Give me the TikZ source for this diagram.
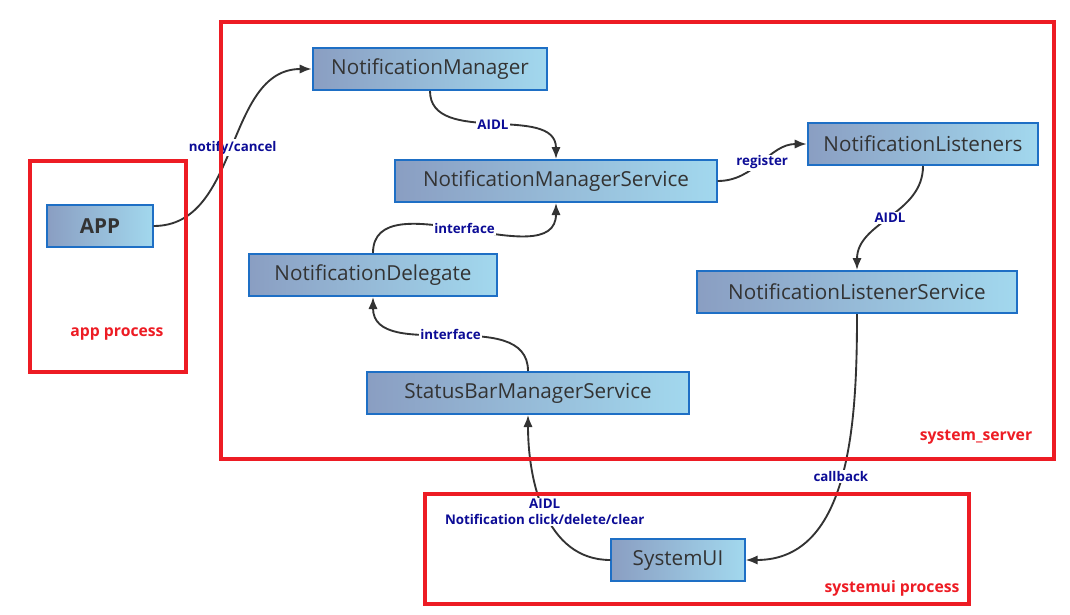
\documentclass[tikz,border=0pt]{standalone}
\usepackage{fontspec}
\setmainfont{Open Sans}
\usetikzlibrary{arrows.meta}
\definecolor{boxleft}{HTML}{8A9EC2}
\definecolor{boxright}{HTML}{A2D8EE}
\definecolor{boxline}{HTML}{1E6FC5}
\definecolor{boxtext}{HTML}{333333}
\definecolor{lblblue}{HTML}{0C0C96}
\definecolor{framered}{HTML}{ED1C24}
\tikzset{
  cls/.style={draw=boxline,line width=1.5pt,left color=boxleft,right color=boxright,
    text=boxtext,inner sep=0pt,minimum height=31.5pt,font=\fontsize{15.5}{17}\selectfont},
  link/.style={draw=black!80,line width=1.4pt,-{Latex[length=9pt,width=7pt]}},
  tag/.style={fill=white,inner sep=1pt,text=lblblue,align=center,
    font=\fontsize{10}{11.5}\selectfont\bfseries},
  frame/.style={draw=framered,line width=3.5pt},
  area/.style={text=framered,font=\fontsize{11.8}{13}\selectfont\bfseries}
}
\begin{document}
\begin{tikzpicture}[x=0.75pt,y=-0.75pt]
\useasboundingbox (0,0) rectangle (1070,614);
\node[cls,minimum width=176pt] (nm) at (430,69) {NotificationManager};
\node[cls,minimum width=241pt] (nms) at (556,181) {NotificationManagerService};
\node[cls,minimum width=173pt] (nlist) at (923,144) {NotificationListeners};
\node[cls,minimum width=79pt,font=\fontsize{15.5}{17}\selectfont\bfseries] (app) at (100,226) {APP};
\node[cls,minimum width=186pt] (ndel) at (373,275) {NotificationDelegate};
\node[cls,minimum width=240pt] (nlsvc) at (857,292) {NotificationListenerService};
\node[cls,minimum width=241pt] (sbms) at (528,393) {StatusBarManagerService};
\node[cls,minimum width=100pt] (sysui) at (678,560) {SystemUI};
\draw[link] (app.east) to[out=0,in=180] node[tag] {notify/cancel} (nm.west);
\draw[link] (nm.south) to[out=-90,in=90] node[tag] {AIDL} (nms.north);
\draw[link] (nms.east) to[out=0,in=180] node[tag] {register} (nlist.west);
\draw[link] (nlist.south) to[out=-90,in=90] node[tag] {AIDL} (nlsvc.north);
\draw[link] (ndel.north) to[out=90,in=-90] node[tag] {interface} (nms.south);
\draw[link] (sbms.north) to[out=90,in=-90] node[tag] {interface} (ndel.south);
\draw[link] (sysui.west) to[out=180,in=-90] node[tag] {AIDL\\Notification click/delete/clear} (sbms.south);
\draw[link] (nlsvc.south) to[out=-90,in=0] node[tag] {callback} (sysui.east);
% process borders
\draw[frame] (30,161) rectangle (186,372);
\draw[frame] (221,22) rectangle (1054,459);
\draw[frame] (425,494) rectangle (969,604);
\node[area] (appname) at (117,334) {app process};
\node[area] (servername) at (976,437) {system\_server};
\node[area] (uiname) at (892,588) {systemui process};
\end{tikzpicture}
\end{document}
